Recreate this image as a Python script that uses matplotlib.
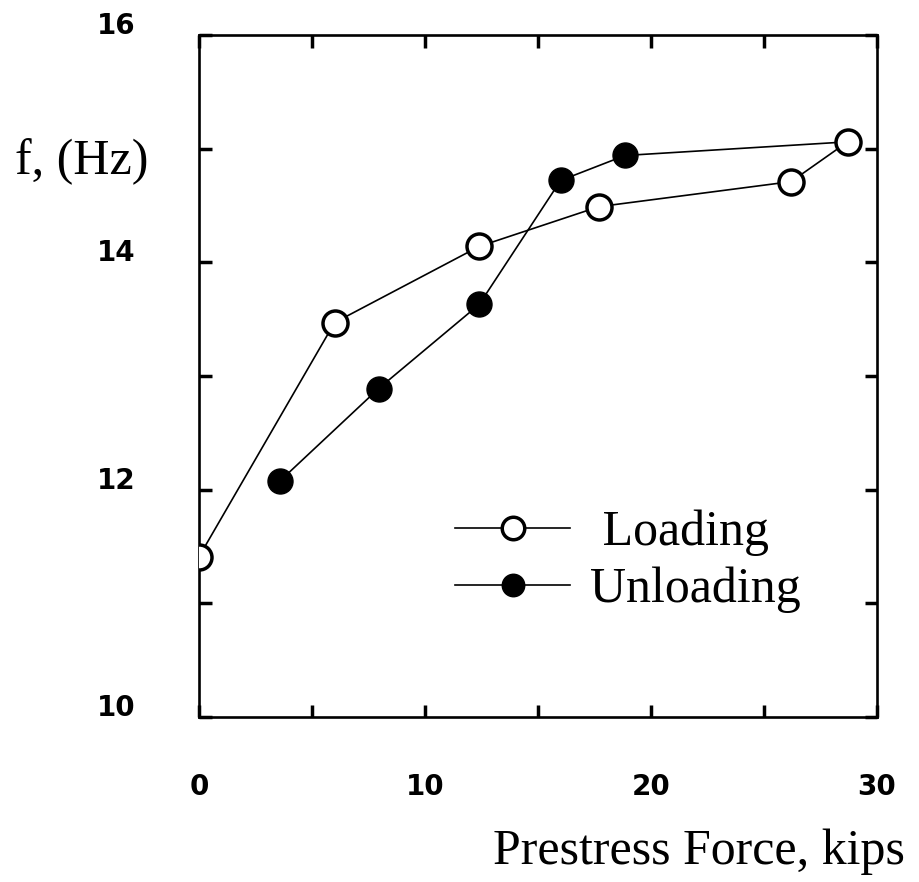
import matplotlib.pyplot as plt
import matplotlib.transforms as mtransforms
import numpy as np

# data
load_x = [0.0, 6.0, 12.4, 17.7, 26.2, 28.7]
load_f = [11.41, 13.47, 14.14, 14.49, 14.71, 15.06]

unload_x = [28.7, 18.85, 16.0, 12.4, 7.95, 3.6]
unload_f = [15.06, 14.94, 14.72, 13.63, 12.89, 12.08]

xtick_labels = ['0', '', '10', '', '20', '', '30']
ytick_labels = ['10', '', '12', '', '14', '', '16']

serif = 'Liberation Serif'

fig = plt.figure(figsize=(9.19, 8.82), dpi=100)
ax = fig.add_axes([199/919, 1-717/882, (877-199)/919, (717-35)/882])

ax.plot(load_x, load_f, color='black', lw=1.2, marker='o', ms=18,
        mfc='white', mec='black', mew=2.5, label=' Loading', zorder=3)
ax.plot(unload_x, unload_f, color='black', lw=1.2, marker='o', ms=18,
        mfc='black', mec='black', markevery=list(range(1, len(unload_x))),
        label='Unloading', zorder=2)

ax.set_xlim(0, 30)
ax.set_ylim(10, 16)

ax.set_xticks(np.arange(0, 31, 5))
ax.set_xticklabels(xtick_labels)
ax.set_yticks(np.arange(10, 16.1, 1))
ax.set_yticklabels(ytick_labels)
ax.tick_params(direction='in', length=9, width=2.5, top=True, right=True,
               labelsize=20)
ax.tick_params(axis='y', pad=46)
ax.tick_params(axis='x', pad=40)
for lab in ax.get_xticklabels() + ax.get_yticklabels():
    lab.set_fontweight('bold')
# y labels sit a little above their ticks in the original
shift = mtransforms.ScaledTranslation(0, 12/100, fig.dpi_scale_trans)
for lab in ax.get_yticklabels():
    lab.set_transform(lab.get_transform() + shift)

for s in ax.spines.values():
    s.set_linewidth(1.9)

fig.text(15/919, 1-162/882, 'f, (Hz)', family=serif, fontsize=36,
         ha='left', va='center')
fig.text(905/919, 1-852/882, 'Prestress Force, kips', family=serif,
         fontsize=36, ha='right', va='center')

leg = ax.legend(loc='upper left', bbox_to_anchor=((455-199)/678, 1-(510-35)/682),
                frameon=False, handlelength=2.3, handletextpad=0.4,
                labelspacing=0.2, markerscale=0.9, borderpad=0,
                borderaxespad=0, prop={'family': serif, 'size': 36})

fig.savefig('out.png', dpi=100)
